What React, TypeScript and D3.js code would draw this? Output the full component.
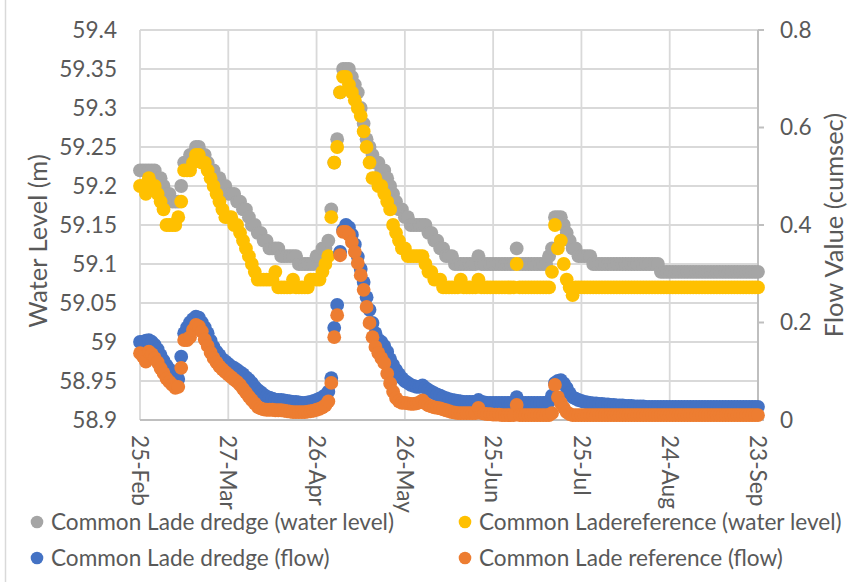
import React from "react";
import * as d3 from "d3";

// ---- Data (daily readings, 25-Feb .. 23-Sep) ----
const startDate = new Date(Date.UTC(2021, 1, 25));
const endDate = new Date(Date.UTC(2021, 8, 23));

const dredgeLevel = [
  59.22,59.22,59.22,59.22,59.22,59.22,59.21,59.21,59.20,59.19,
  59.19,59.18,59.18,59.18,59.20,59.23,59.23,59.24,59.24,59.25,
  59.25,59.24,59.24,59.23,59.22,59.22,59.21,59.21,59.20,59.20,
  59.19,59.19,59.19,59.18,59.18,59.17,59.17,59.16,59.15,59.15,
  59.14,59.14,59.13,59.13,59.12,59.12,59.12,59.12,59.11,59.11,
  59.11,59.11,59.11,59.11,59.10,59.10,59.10,59.10,59.10,59.10,
  59.11,59.11,59.12,59.12,59.13,59.17,59.23,59.26,59.32,59.35,
  59.35,59.35,59.34,59.33,59.32,59.30,59.28,59.26,59.25,59.24,
  59.23,59.23,59.22,59.22,59.21,59.20,59.19,59.18,59.17,59.17,
  59.16,59.16,59.15,59.15,59.15,59.15,59.15,59.15,59.14,59.14,
  59.13,59.13,59.12,59.12,59.11,59.11,59.11,59.10,59.10,59.10,
  59.10,59.10,59.10,59.10,59.10,59.11,59.10,59.10,59.10,59.10,
  59.10,59.10,59.10,59.10,59.10,59.10,59.10,59.10,59.12,59.10,
  59.10,59.10,59.10,59.10,59.10,59.10,59.10,59.10,59.10,59.11,
  59.12,59.16,59.16,59.16,59.15,59.14,59.13,59.12,59.12,59.11,
  59.11,59.11,59.11,59.11,59.10,59.10,59.10,59.10,59.10,59.10,
  59.10,59.10,59.10,59.10,59.10,59.10,59.10,59.10,59.10,59.10,
  59.10,59.10,59.10,59.10,59.10,59.10,59.10,59.09,59.09,59.09,
  59.09,59.09,59.09,59.09,59.09,59.09,59.09,59.09,59.09,59.09,
  59.09,59.09,59.09,59.09,59.09,59.09,59.09,59.09,59.09,59.09,
  59.09,59.09,59.09,59.09,59.09,59.09,59.09,59.09,59.09,59.09,
  59.09,
];

const referenceLevel = [
  59.20,59.20,59.19,59.21,59.20,59.20,59.19,59.18,59.17,59.15,
  59.15,59.15,59.15,59.16,59.18,59.22,59.22,59.22,59.23,59.24,
  59.24,59.23,59.23,59.22,59.21,59.20,59.19,59.18,59.17,59.16,
  59.16,59.16,59.15,59.15,59.14,59.13,59.12,59.11,59.10,59.09,
  59.08,59.08,59.08,59.08,59.08,59.08,59.09,59.07,59.07,59.07,
  59.07,59.07,59.08,59.07,59.07,59.07,59.07,59.07,59.08,59.08,
  59.08,59.08,59.09,59.10,59.11,59.16,59.23,59.25,59.32,59.34,
  59.34,59.33,59.32,59.31,59.30,59.29,59.27,59.25,59.23,59.21,
  59.21,59.20,59.20,59.19,59.18,59.17,59.15,59.14,59.13,59.12,
  59.12,59.11,59.11,59.11,59.11,59.11,59.11,59.10,59.09,59.09,
  59.08,59.08,59.08,59.07,59.07,59.07,59.07,59.07,59.07,59.08,
  59.07,59.07,59.07,59.07,59.07,59.08,59.07,59.07,59.07,59.07,
  59.07,59.07,59.07,59.07,59.07,59.07,59.07,59.07,59.10,59.07,
  59.07,59.07,59.07,59.07,59.07,59.07,59.07,59.07,59.07,59.07,
  59.09,59.15,59.12,59.13,59.10,59.08,59.07,59.06,59.07,59.07,
  59.07,59.07,59.07,59.07,59.07,59.07,59.07,59.07,59.07,59.07,
  59.07,59.07,59.07,59.07,59.07,59.07,59.07,59.07,59.07,59.07,
  59.07,59.07,59.07,59.07,59.07,59.07,59.07,59.07,59.07,59.07,
  59.07,59.07,59.07,59.07,59.07,59.07,59.07,59.07,59.07,59.07,
  59.07,59.07,59.07,59.07,59.07,59.07,59.07,59.07,59.07,59.07,
  59.07,59.07,59.07,59.07,59.07,59.07,59.07,59.07,59.07,59.07,
  59.07,
];

const dredgeFlow = [
  0.160,0.160,0.163,0.164,0.160,0.154,0.145,0.133,0.122,0.112,
  0.104,0.096,0.088,0.084,0.130,0.178,0.190,0.200,0.207,0.212,
  0.210,0.200,0.190,0.178,0.163,0.150,0.140,0.133,0.125,0.120,
  0.115,0.110,0.107,0.103,0.098,0.094,0.088,0.083,0.076,0.068,
  0.062,0.057,0.052,0.048,0.046,0.044,0.042,0.041,0.041,0.040,
  0.039,0.038,0.037,0.037,0.036,0.035,0.035,0.036,0.037,0.039,
  0.041,0.044,0.047,0.051,0.058,0.086,0.189,0.236,0.345,0.390,
  0.400,0.395,0.380,0.360,0.335,0.310,0.283,0.252,0.226,0.199,
  0.178,0.165,0.160,0.152,0.140,0.125,0.113,0.103,0.094,0.086,
  0.080,0.076,0.072,0.070,0.068,0.068,0.071,0.066,0.062,0.058,
  0.055,0.052,0.050,0.047,0.045,0.043,0.041,0.040,0.039,0.038,
  0.037,0.037,0.037,0.037,0.037,0.041,0.037,0.036,0.035,0.035,
  0.035,0.035,0.035,0.035,0.035,0.035,0.035,0.035,0.047,0.036,
  0.035,0.035,0.035,0.035,0.035,0.035,0.035,0.035,0.035,0.038,
  0.050,0.076,0.080,0.082,0.075,0.066,0.055,0.047,0.044,0.041,
  0.039,0.037,0.036,0.035,0.034,0.034,0.033,0.033,0.032,0.032,
  0.031,0.031,0.030,0.030,0.030,0.029,0.029,0.029,0.028,0.028,
  0.028,0.028,0.027,0.027,0.027,0.027,0.027,0.027,0.027,0.027,
  0.027,0.027,0.027,0.027,0.027,0.027,0.027,0.027,0.027,0.027,
  0.027,0.027,0.027,0.027,0.027,0.027,0.027,0.027,0.027,0.027,
  0.027,0.027,0.027,0.027,0.027,0.027,0.027,0.027,0.027,0.027,
  0.027,
];

const referenceFlow = [
  0.137,0.130,0.120,0.140,0.135,0.127,0.118,0.106,0.096,0.085,
  0.078,0.072,0.066,0.068,0.107,0.164,0.164,0.170,0.185,0.195,
  0.192,0.182,0.165,0.152,0.138,0.127,0.118,0.110,0.104,0.098,
  0.093,0.088,0.083,0.078,0.072,0.064,0.056,0.048,0.041,0.034,
  0.027,0.024,0.022,0.021,0.021,0.021,0.020,0.020,0.020,0.019,
  0.018,0.017,0.016,0.016,0.016,0.016,0.016,0.017,0.018,0.019,
  0.021,0.023,0.026,0.030,0.038,0.076,0.170,0.215,0.338,0.386,
  0.386,0.380,0.365,0.345,0.322,0.297,0.267,0.232,0.199,0.170,
  0.150,0.137,0.127,0.117,0.095,0.075,0.058,0.045,0.038,0.035,
  0.035,0.034,0.033,0.033,0.034,0.036,0.040,0.034,0.030,0.028,
  0.026,0.025,0.024,0.022,0.020,0.018,0.016,0.015,0.014,0.014,
  0.014,0.014,0.014,0.014,0.014,0.025,0.014,0.013,0.012,0.012,
  0.011,0.011,0.011,0.010,0.010,0.010,0.010,0.010,0.031,0.010,
  0.010,0.010,0.010,0.010,0.010,0.010,0.010,0.010,0.010,0.010,
  0.014,0.072,0.047,0.035,0.025,0.016,0.012,0.010,0.010,0.010,
  0.010,0.010,0.010,0.010,0.010,0.010,0.010,0.010,0.010,0.010,
  0.010,0.010,0.010,0.010,0.010,0.010,0.010,0.010,0.010,0.010,
  0.010,0.010,0.010,0.010,0.010,0.010,0.010,0.010,0.010,0.010,
  0.010,0.010,0.010,0.010,0.010,0.010,0.010,0.010,0.010,0.010,
  0.010,0.010,0.010,0.010,0.010,0.010,0.010,0.010,0.010,0.010,
  0.010,0.010,0.010,0.010,0.010,0.010,0.010,0.010,0.010,0.010,
  0.010,
];

const levelTicks = [58.9, 58.95, 59, 59.05, 59.1, 59.15, 59.2, 59.25, 59.3, 59.35, 59.4];
const levelTickLabels = ["58.9", "58.95", "59", "59.05", "59.1", "59.15", "59.2", "59.25", "59.3", "59.35", "59.4"];
const flowTicks = [0, 0.2, 0.4, 0.6, 0.8];
const flowTickLabels = ["0", "0.2", "0.4", "0.6", "0.8"];
const dateTickLabels = ["25-Feb", "27-Mar", "26-Apr", "26-May", "25-Jun", "25-Jul", "24-Aug", "23-Sep"];

const seriesNames = [
  "Common Lade dredge (water level)",
  "Common Ladereference (water level)",
  "Common Lade dredge (flow)",
  "Common Lade reference (flow)",
];
const seriesColors = ["#A5A5A5", "#FFC000", "#4472C4", "#ED7D31"];

const FONT = "Lato, 'Open Sans', sans-serif";
const TEXT = "#595959";

export default function App() {
  const W = 853, H = 582;
  const left = 140, right = 758, top = 30, bottom = 420;
  const x = d3.scaleUtc().domain([startDate, endDate]).range([left, right]);
  const yL = d3.scaleLinear().domain([58.9, 59.4]).range([bottom, top]);
  const yR = d3.scaleLinear().domain([0, 0.8]).range([bottom, top]);
  const dateOf = (i: number) => d3.utcDay.offset(startDate, i);
  const dateTicks = dateTickLabels.map((_, k) => d3.utcDay.offset(startDate, k * 30));
  const r = 6.9;
  const fs = 22.6;

  const series = [
    { vals: dredgeLevel, y: yL, color: seriesColors[0] },
    { vals: referenceLevel, y: yL, color: seriesColors[1] },
    { vals: dredgeFlow, y: yR, color: seriesColors[2] },
    { vals: referenceFlow, y: yR, color: seriesColors[3] },
  ];

  const legendPos = [
    { cx: 37, cy: 522 },
    { cx: 465, cy: 522 },
    { cx: 37, cy: 558 },
    { cx: 465, cy: 558 },
  ];

  return (
    <svg width={W} height={H} style={{ position: "absolute", left: 0, top: 0, background: "#fff" }} fontFamily={FONT}>
      <rect x={0} y={0} width={W} height={H} fill="#fff" />
      <line x1={5.5} x2={5.5} y1={0} y2={H} stroke="#D9D9D9" strokeWidth={1.5} />
      {levelTicks.map((t, i) => (
        <line key={"h" + i} x1={left} x2={right} y1={yL(t)} y2={yL(t)} stroke="#D9D9D9" strokeWidth={1.8} />
      ))}
      {dateTicks.map((d, i) => (
        <line key={"v" + i} x1={x(d)} x2={x(d)} y1={top} y2={bottom} stroke="#D9D9D9" strokeWidth={1.8} />
      ))}
      <line x1={left} x2={right} y1={bottom} y2={bottom} stroke="#BFBFBF" strokeWidth={2} />
      <line x1={right} x2={right} y1={top} y2={bottom} stroke="#BFBFBF" strokeWidth={2} />
      {flowTicks.map((t, i) => (
        <line key={"rt" + i} x1={right} x2={right + 6} y1={yR(t)} y2={yR(t)} stroke="#BFBFBF" strokeWidth={2} />
      ))}
      {levelTicks.map((t, i) => (
        <text key={"lt" + i} x={117} y={yL(t)} dy="0.35em" textAnchor="end" fontSize={fs} fill={TEXT}>
          {levelTickLabels[i]}
        </text>
      ))}
      {flowTicks.map((t, i) => (
        <text key={"rl" + i} x={780} y={yR(t)} dy="0.35em" textAnchor="start" fontSize={fs} fill={TEXT}>
          {flowTickLabels[i]}
        </text>
      ))}
      {dateTicks.map((d, i) => (
        <text key={"xl" + i} transform={`translate(${x(d)},${435}) rotate(90)`} dy="0.35em" textAnchor="start" fontSize={fs} fill={TEXT}>
          {dateTickLabels[i]}
        </text>
      ))}
      <text transform={`translate(47,241) rotate(-90)`} textAnchor="middle" fontSize={25.5} fill={TEXT}>
        Water Level (m)
      </text>
      <text transform={`translate(843,225) rotate(-90)`} textAnchor="middle" fontSize={25.5} fill={TEXT}>
        Flow Value (cumsec)
      </text>
      {series.map((s, si) => (
        <g key={"s" + si} fill={s.color}>
          {s.vals.map((v, i) => (
            <circle key={i} cx={x(dateOf(i))} cy={s.y(v)} r={r} />
          ))}
        </g>
      ))}
      {seriesNames.map((name, i) => (
        <g key={"lg" + i}>
          <circle cx={legendPos[i].cx} cy={legendPos[i].cy} r={6.3} fill={seriesColors[i]} />
          <text x={legendPos[i].cx + 14} y={legendPos[i].cy} dy="0.35em" fontSize={fs} fill={TEXT}>
            {name}
          </text>
        </g>
      ))}
    </svg>
  );
}
